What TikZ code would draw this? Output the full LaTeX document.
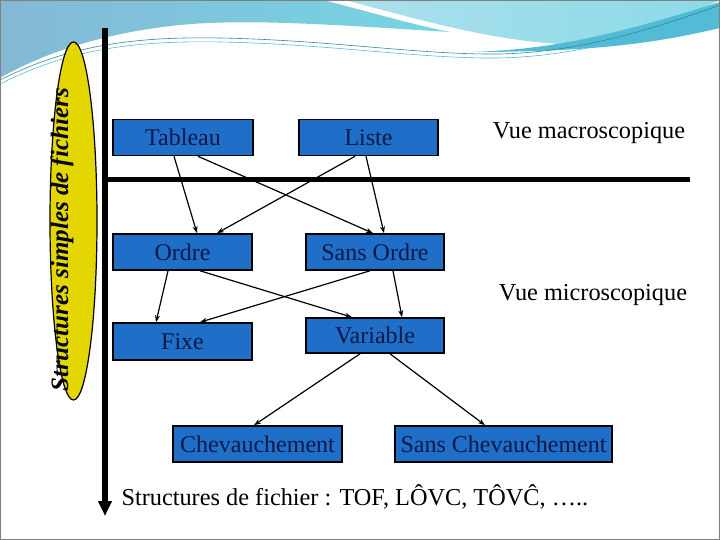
\documentclass[tikz,border=0pt]{standalone}
\usepackage{fontspec}
\setmainfont{Liberation Serif}
\usetikzlibrary{arrows.meta}
\definecolor{boxblue}{RGB}{31,111,201}
\definecolor{boxtext}{RGB}{12,24,70}
\definecolor{ovalyellow}{RGB}{228,214,0}
\definecolor{waveblue}{RGB}{132,184,212}
\definecolor{wavecyan}{RGB}{118,214,228}
\definecolor{wavelight}{RGB}{172,224,236}
\definecolor{waveband}{RGB}{82,188,214}
\tikzset{
  cell/.style={draw=black, line width=1.6pt, fill=boxblue, text=boxtext, inner sep=0pt,
    minimum height=36pt, font=\fontsize{24}{26}\selectfont},
  link/.style={-{Stealth[length=7pt,width=5pt]}, line width=1.2pt},
  plain/.style={font=\fontsize{24.3}{26}\selectfont},
}

\begin{document}
\begin{tikzpicture}[x=1pt,y=-1pt]
  % slide background with the waves on top
  \useasboundingbox (0,0) rectangle (720,540);
  \shade[left color=waveblue, right color=wavecyan] (0,0) -- (323,0)
    .. controls (370,12) and (410,24) .. (450,32)
    .. controls (350,26) and (250,18) .. (180,25)
    .. controls (100,33) and (40,55) .. (0,78) -- cycle;
  \shade[left color=wavelight, right color=wavecyan!60!wavelight] (345,0)
    .. controls (420,20) and (490,40) .. (560,44)
    .. controls (620,40) and (680,20) .. (720,0) -- cycle;
  \fill[waveband] (470,52) .. controls (540,50) and (600,40) .. (720,2)
    -- (720,28) .. controls (660,42) and (600,52) .. (470,52) -- cycle;
  \draw[waveband!70!black, line width=0.6pt] (0,80) .. controls (60,50) and (120,36) .. (220,38)
    .. controls (330,40) and (420,55) .. (500,54) .. controls (580,52) and (650,30) .. (720,5);
  \draw[waveband, line width=0.6pt] (0,84) .. controls (60,54) and (120,40) .. (220,42)
    .. controls (330,44) and (420,59) .. (500,58) .. controls (580,56) and (650,34) .. (720,9);
  \draw[gray, line width=1pt] (0.5,0.5) rectangle (719.5,539.5);

  % theme oval and the two axes
  \draw[fill=ovalyellow, line width=1.2pt] (73.5,221) ellipse [x radius=23.5, y radius=179];
  \node[rotate=90, font=\bfseries\itshape\fontsize{25}{26}\selectfont] (theme) at (62,240)
    {Structures simples de fichiers};
  \coordinate (axtop) at (105,28);
  \coordinate (axbot) at (105,516);
  \coordinate (sepleft) at (105,180);
  \coordinate (sepright) at (690,180);
  \draw[line width=6pt, -{Triangle[length=15pt,width=13pt]}] (axtop) -- (axbot);
  \draw[line width=5pt] (sepleft) -- (sepright);

  \node[cell, minimum width=140pt] (tab) at (183,137.5) {Tableau};
  \node[cell, minimum width=139pt] (lst) at (368.5,137.5) {Liste};
  \node[cell, minimum width=139pt] (ord) at (182.5,252) {Ordre};
  \node[cell, minimum width=138pt] (sord) at (375,252) {Sans Ordre};
  \node[cell, minimum width=139pt, minimum height=37pt] (fix) at (182.5,341.5) {Fixe};
  \node[cell, minimum width=138pt, minimum height=35pt] (var) at (375,335.5) {Variable};
  \node[cell, minimum width=169pt] (chev) at (257.5,444) {Chevauchement};
  \node[cell, minimum width=217pt] (schev) at (503.5,444) {Sans Chevauchement};

  \node[plain] (macro) at (589,133) {Vue macroscopique};
  \node[plain] (micro) at (593,295) {Vue microscopique};
  \node[plain, anchor=west] (types) at (118,497) {Structures de fichier : TOF, LÔVC, TÔVĈ, …..};

  \draw[link] ([xshift=-9pt]tab.south) -- ([xshift=14.5pt]ord.north);
  \draw[link] ([xshift=15pt]tab.south) -- ([xshift=-2pt]sord.north);
  \draw[link] ([xshift=-13.5pt]lst.south) -- ([xshift=34.5pt]ord.north);
  \draw[link] ([xshift=-2.5pt]lst.south) -- ([xshift=9pt]sord.north);
  \draw[link] ([xshift=-14.5pt]ord.south) -- ([xshift=-26.5pt]fix.north);
  \draw[link] ([xshift=17.5pt]ord.south) -- ([xshift=-23pt]var.north);
  \draw[link] ([xshift=-5pt]sord.south) -- ([xshift=17.5pt]fix.north);
  \draw[link] ([xshift=18pt]sord.south) -- ([xshift=27pt]var.north);
  \draw[link] ([xshift=-15pt]var.south) -- ([xshift=-3.5pt]chev.north);
  \draw[link] ([xshift=15pt]var.south) -- ([xshift=-18.5pt]schev.north);
\end{tikzpicture}
\end{document}
